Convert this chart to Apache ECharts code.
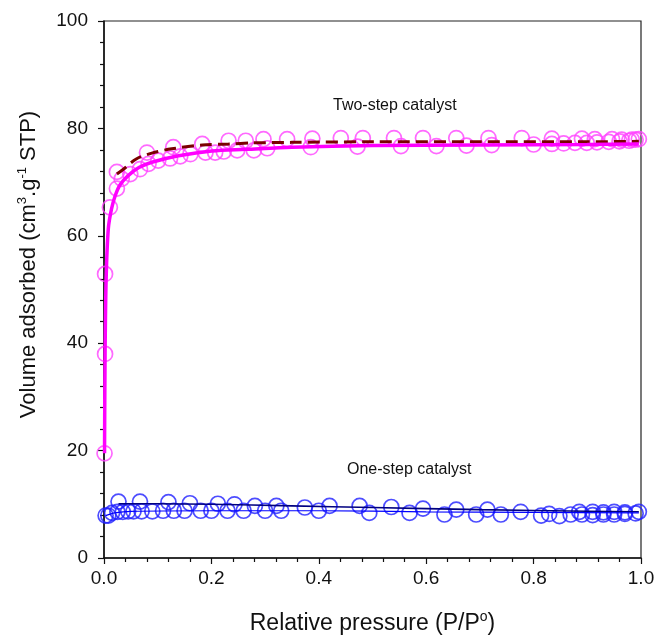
<!DOCTYPE html>
<html>
<head>
<meta charset="utf-8">
<script src="https://cdn.jsdelivr.net/npm/echarts@6/dist/echarts.min.js"></script>
<style>
    html, body { margin: 0; padding: 0; background: #fff; }
    #chart { width: 657px; height: 637px; }
</style>
</head>
<body>
<div id="chart"></div>
<script>
// two-step catalyst, adsorption branch (circles)
var twoAdsX = [0.001, 0.002, 0.002, 0.011, 0.024, 0.033, 0.049, 0.067, 0.083, 0.101, 0.123, 0.142, 0.161, 0.189, 0.207, 0.223, 0.248, 0.279, 0.304, 0.385, 0.472, 0.553, 0.619, 0.675, 0.722, 0.8, 0.834, 0.856, 0.877, 0.899, 0.918, 0.94, 0.96, 0.978, 0.99];
var twoAdsY = [19.5, 38, 52.9, 65.3, 68.8, 70.6, 71.5, 72.4, 73.4, 74, 74.4, 74.8, 75.2, 75.5, 75.5, 75.7, 75.9, 75.9, 76.3, 76.5, 76.6, 76.7, 76.7, 76.8, 76.9, 77.0, 77.1, 77.2, 77.3, 77.3, 77.4, 77.5, 77.6, 77.7, 77.9];
// two-step catalyst, desorption branch (circles)
var twoDesX = [0.996, 0.983, 0.964, 0.946, 0.914, 0.89, 0.834, 0.778, 0.716, 0.656, 0.594, 0.54, 0.482, 0.441, 0.388, 0.341, 0.297, 0.264, 0.232, 0.183, 0.129, 0.08, 0.024];
var twoDesY = [78.0, 77.9, 77.9, 78.0, 78.0, 78.1, 78.1, 78.2, 78.2, 78.2, 78.2, 78.2, 78.2, 78.2, 78.1, 78.0, 78.0, 77.7, 77.7, 77.1, 76.5, 75.5, 71.9];
// fitted curves
var twoFitAX = [0.001, 0.002, 0.004, 0.008, 0.014, 0.021, 0.03, 0.045, 0.065, 0.089, 0.139, 0.201, 0.264, 0.35, 0.5, 0.7, 0.9, 0.996];
var twoFitAY = [19.5, 38, 52, 61.3, 65, 67.5, 69.5, 71.2, 72.7, 73.7, 74.9, 75.8, 76.1, 76.5, 76.8, 76.9, 77.0, 77.1];
var twoFitDX = [0.024, 0.036, 0.06, 0.089, 0.126, 0.183, 0.232, 0.276, 0.35, 0.5, 0.7, 0.9, 0.996];
var twoFitDY = [71.5, 72.4, 74.3, 75.4, 76.2, 76.9, 77.1, 77.3, 77.4, 77.5, 77.5, 77.5, 77.6];

// one-step catalyst
var oneAdsX = [0.003, 0.008, 0.015, 0.025, 0.035, 0.045, 0.055, 0.07, 0.09, 0.11, 0.13, 0.15, 0.18, 0.2, 0.23, 0.26, 0.3, 0.33, 0.4, 0.494, 0.569, 0.634, 0.693, 0.739, 0.814, 0.848, 0.869, 0.89, 0.91, 0.93, 0.95, 0.97, 0.99];
var oneAdsY = [7.9, 7.9, 8.4, 8.6, 8.6, 8.7, 8.7, 8.7, 8.7, 8.8, 8.8, 8.8, 8.8, 8.8, 8.8, 8.8, 8.8, 8.8, 8.8, 8.4, 8.4, 8.1, 8.1, 8.1, 7.9, 7.8, 8.1, 8.1, 8.0, 8.1, 8.1, 8.2, 8.3];
var oneDesX = [0.996, 0.97, 0.95, 0.93, 0.91, 0.885, 0.829, 0.776, 0.714, 0.656, 0.594, 0.535, 0.476, 0.42, 0.374, 0.321, 0.281, 0.243, 0.212, 0.16, 0.12, 0.067, 0.027];
var oneDesY = [8.6, 8.5, 8.6, 8.5, 8.6, 8.6, 8.2, 8.6, 9.0, 9.0, 9.2, 9.5, 9.7, 9.7, 9.4, 9.7, 9.7, 10.0, 10.1, 10.2, 10.4, 10.5, 10.5];
var oneFitAX = [0.003, 0.02, 0.05, 0.2, 0.4, 0.6, 0.8, 0.996];
var oneFitAY = [7.9, 8.4, 8.7, 8.8, 8.8, 8.6, 8.5, 8.4];
var oneFitDX = [0.027, 0.1, 0.2, 0.35, 0.5, 0.7, 0.9, 0.996];
var oneFitDY = [10.1, 10.1, 10.0, 9.7, 9.4, 9.0, 8.7, 8.6];

var xTicks = [0, 0.2, 0.4, 0.6, 0.8, 1.0];
var yTicks = [0, 20, 40, 60, 80, 100];

function pairs(xs, ys) {
    var out = [];
    for (var i = 0; i < xs.length; i++) out.push([xs[i], ys[i]]);
    return out;
}

var chart = echarts.init(document.getElementById('chart'));

// hollow circle markers, see-through so the fit lines show
function circles(color, data) {
    return {
        type: 'scatter',
        symbol: 'circle',
        symbolSize: 15,
        data: data,
        itemStyle: { color: 'rgba(255,255,255,0)', borderColor: color, borderWidth: 1.7 },
        z: 3
    };
}

var series = [
    circles('#ff44ff', pairs(twoAdsX, twoAdsY)),
    circles('#ff44ff', pairs(twoDesX, twoDesY)),
    circles('#2020ff', pairs(oneAdsX, oneAdsY)),
    circles('#2020ff', pairs(oneDesX, oneDesY)),
    {
        type: 'line', data: pairs(twoFitDX, twoFitDY), smooth: 0.3, symbol: 'none',
        lineStyle: { color: '#7a0000', width: 3, type: [12, 6] }, z: 4
    },
    {
        type: 'line', data: pairs(twoFitAX, twoFitAY), smooth: 0.3, symbol: 'none',
        lineStyle: { color: '#ff00ff', width: 3.5 }, z: 5
    },
    {
        type: 'line', data: pairs(oneFitDX, oneFitDY), smooth: 0.3, symbol: 'none',
        lineStyle: { color: '#000080', width: 1.6 }, z: 4
    },
    {
        type: 'line', data: pairs(oneFitAX, oneFitAY), smooth: 0.3, symbol: 'none',
        lineStyle: { color: '#0000ff', width: 1.2 }, z: 4
    }
];

var font = 'Liberation Sans, Arial';

var option = {
    animation: false,
    backgroundColor: '#fff',
    grid: {
        left: 104, top: 21, right: 16, bottom: 79,
        outerBoundsMode: 'none',
        show: true, borderColor: '#222', borderWidth: 1.2
    },
    xAxis: {
        type: 'value', min: xTicks[0], max: xTicks[xTicks.length - 1], interval: 0.2,
        axisLine: { lineStyle: { color: '#111', width: 1.5 } },
        axisTick: { inside: false, length: 6, lineStyle: { color: '#111', width: 1.2 } },
        minorTick: { show: true, splitNumber: 5, length: 4, lineStyle: { color: '#111', width: 1.2 } },
        splitLine: { show: false },
        axisLabel: {
            fontFamily: font, fontSize: 19, color: '#111', margin: 11,
            formatter: function (v) { return v.toFixed(1); }
        },
        name: '{a|Relative pressure (P/P}{s|o}{a|)}',
        nameLocation: 'middle', nameGap: 52,
        nameTextStyle: {
            rich: {
                a: { fontFamily: font, fontSize: 23, color: '#111' },
                s: { fontFamily: font, fontSize: 14, color: '#111', padding: [0, 0, 14, 0] }
            }
        }
    },
    yAxis: {
        type: 'value', min: yTicks[0], max: yTicks[yTicks.length - 1], interval: 20,
        axisLine: { show: true, lineStyle: { color: '#111', width: 1.5 } },
        axisTick: { show: true, inside: false, length: 6, lineStyle: { color: '#111', width: 1.2 } },
        minorTick: { show: true, splitNumber: 5, length: 4, lineStyle: { color: '#111', width: 1.2 } },
        splitLine: { show: false },
        axisLabel: { fontFamily: font, fontSize: 19, color: '#111', margin: 16 },
        name: '{a|Volume adsorbed (cm}{s|3}{a|.g}{s|-1}{a| STP)}',
        nameLocation: 'middle', nameGap: 62, nameRotate: 90,
        nameTextStyle: {
            padding: [0, 0, 0, 50],
            rich: {
                a: { fontFamily: font, fontSize: 22, color: '#111' },
                s: { fontFamily: font, fontSize: 13, color: '#111', padding: [0, 0, 13, 0] }
            }
        }
    },
    graphic: [
        {
            type: 'text', left: 333, top: 98,
            style: { text: 'Two-step catalyst', font: '16px "Liberation Sans", Arial', fill: '#111' }
        },
        {
            type: 'text', left: 347, top: 462,
            style: { text: 'One-step catalyst', font: '16px "Liberation Sans", Arial', fill: '#111' }
        }
    ],
    series: series
};

chart.setOption(option);
</script>
</body>
</html>
